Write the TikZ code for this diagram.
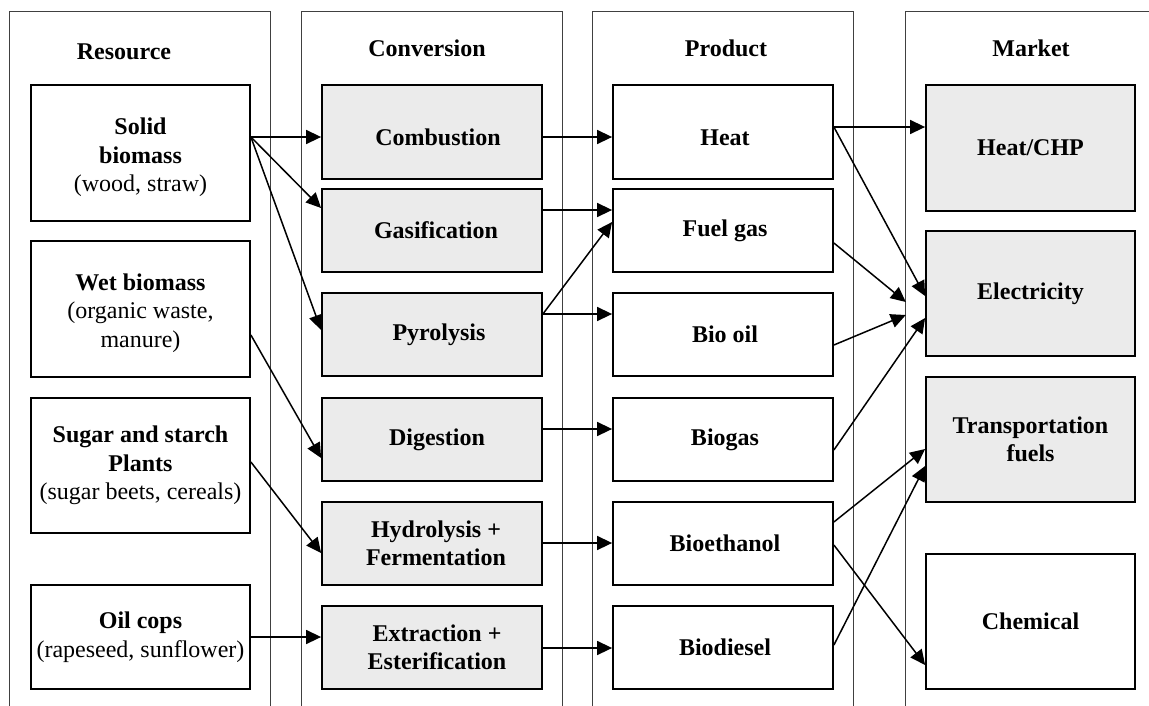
\documentclass[tikz,border=0pt]{standalone}
\usepackage{fontspec}
\setmainfont{Liberation Serif}
\usetikzlibrary{arrows.meta,calc}
\begin{document}
\begin{tikzpicture}[x=1pt,y=-1pt,
  panel/.style={draw=none,minimum width=#1,minimum height=694pt,inner sep=0pt},
  panelline/.style={draw=black!75,line width=1pt},
  head/.style={anchor=base,font=\fontsize{24}{28}\selectfont\bfseries},
  box/.style={draw=black,line width=1.8pt,align=center,inner sep=0pt,
    font=\fontsize{24}{28.5}\selectfont\bfseries},
  shade/.style={fill=black!8},
  lowtext/.style={text height=26pt,text depth=0pt},
  arr/.style={line width=1.5pt,-{Triangle[length=15pt,width=14pt]}}]
\useasboundingbox (0,0) rectangle (1149,705);
% panels
\node[panel=260pt] (pR) at (140,359) {};
\node[panel=260pt] (pC) at (432,359) {};
\node[panel=260pt] (pP) at (723,359) {};
\node[panel=260pt] (pM) at (1036,359) {};
\foreach \p in {pR,pC,pP}
  \draw[panelline] (\p.south west) -- (\p.north west) -- (\p.north east) -- (\p.south east);
\draw[panelline] (pM.south west) -- (pM.north west) -- (pM.north east);
% headers
\node[head] (hR) at (124,59) {Resource};
\node[head] (hC) at (427,56) {Conversion};
\node[head] (hP) at (726,56) {Product};
\node[head] (hM) at (1031,56) {Market};
% resource
\node[box,minimum width=219pt,minimum height=136pt] (sb) at (140.5,153) {\rule{0pt}{26pt}Solid\\biomass\\\mdseries(wood, straw)};
\node[box,minimum width=219pt,minimum height=136pt] (wb) at (140.5,309) {\rule{0pt}{25pt}Wet biomass\\\mdseries(organic waste,\\\mdseries manure)};
\node[box,minimum width=219pt,minimum height=135pt] (ss) at (140.5,465.5) {Sugar and starch\\Plants\\\mdseries(sugar beets, cereals)};
\node[box,minimum width=219pt,minimum height=104pt] (oc) at (140.5,637) {Oil cops\\\mdseries(rapeseed, sunflower)};
% conversion
\node[box,shade,lowtext,minimum width=220pt,minimum height=94pt] (cb) at (432,132) {\hspace*{12pt}Combustion};
\node[box,shade,minimum width=220pt,minimum height=83pt] (gs) at (432,230.5) {\hspace*{8pt}Gasification};
\node[box,shade,minimum width=220pt,minimum height=83pt] (py) at (432,334.5) {\hspace*{14pt}Pyrolysis};
\node[box,shade,minimum width=220pt,minimum height=83pt] (dg) at (432,439.5) {\hspace*{10pt}Digestion};
\node[box,shade,minimum width=220pt,minimum height=83pt] (hf) at (432,543.5) {\hspace*{8pt}Hydrolysis +\\\hspace*{8pt}Fermentation};
\node[box,shade,minimum width=220pt,minimum height=83pt] (ee) at (432,647.5) {\hspace*{10pt}Extraction +\\\hspace*{10pt}Esterification};
% product
\node[box,lowtext,minimum width=220pt,minimum height=94pt] (ht) at (723,132) {\hspace*{4pt}Heat};
\node[box,minimum width=220pt,minimum height=83pt] (fg) at (723,230.5) {\hspace*{4pt}Fuel gas};
\node[box,minimum width=220pt,minimum height=83pt] (bo) at (723,334.5) {\hspace*{4pt}Bio oil};
\node[box,minimum width=220pt,minimum height=83pt] (bg) at (723,439.5) {\hspace*{4pt}Biogas};
\node[box,minimum width=220pt,minimum height=83pt] (be) at (723,543.5) {\hspace*{4pt}Bioethanol};
\node[box,minimum width=220pt,minimum height=83pt] (bd) at (723,647.5) {\hspace*{4pt}Biodiesel};
% market
\node[box,shade,minimum width=209pt,minimum height=126pt] (hc) at (1030.5,148) {Heat/CHP};
\node[box,shade,minimum width=209pt,minimum height=125pt] (el) at (1030.5,293.5) {Electricity};
\node[box,shade,minimum width=209pt,minimum height=125pt] (tf) at (1030.5,439.5) {Transportation\\fuels};
\node[box,minimum width=209pt,minimum height=135pt] (ch) at (1030.5,621.5) {Chemical};
% arrows resource -> conversion
\draw[arr] ($(sb.east)+(0,-16)$) -- ($(cb.west)+(0,5)$);
\draw[arr] ($(sb.east)+(0,-16)$) -- ($(gs.west)+(0,-22.5)$);
\draw[arr] ($(sb.east)+(0,-16)$) -- ($(py.west)+(0,-4.5)$);
\draw[arr] ($(wb.east)+(0,26)$) -- ($(dg.west)+(0,18.5)$);
\draw[arr] ($(ss.east)+(0,-3.5)$) -- ($(hf.west)+(0,9.5)$);
\draw[arr] ($(oc.east)+(0,0)$) -- ($(ee.west)+(0,-10.5)$);
% conversion -> product
\draw[arr] ($(cb.east)+(0,5)$) -- ($(ht.west)+(0,5)$);
\draw[arr] ($(gs.east)+(0,-20.5)$) -- ($(fg.west)+(0,-20.5)$);
\draw[arr] ($(py.east)+(0,-20.5)$) -- ($(fg.west)+(0,-8.5)$);
\draw[arr] ($(py.east)+(0,-20.5)$) -- ($(bo.west)+(0,-20.5)$);
\draw[arr] ($(dg.east)+(0,-10.5)$) -- ($(bg.west)+(0,-10.5)$);
\draw[arr] ($(hf.east)+(0,-0.5)$) -- ($(be.west)+(0,-0.5)$);
\draw[arr] ($(ee.east)+(0,0.5)$) -- ($(bd.west)+(0,0.5)$);
% product -> market
\draw[arr] ($(ht.east)+(0,-5)$) -- ($(hc.west)+(0,-21)$);
\draw[arr] ($(ht.east)+(0,-5)$) -- ($(el.west)+(0,2.5)$);
\draw[arr] ($(fg.east)+(0,12.5)$) -- ($(pM.west)+(0,-57)$);
\draw[arr] ($(bo.east)+(0,10.5)$) -- ($(pM.west)+(0,-44)$);
\draw[arr] ($(bg.east)+(0,10.5)$) -- ($(el.west)+(0,24.5)$);
\draw[arr] ($(be.east)+(0,-21.5)$) -- ($(tf.west)+(0,9.5)$);
\draw[arr] ($(be.east)+(0,1.5)$) -- ($(ch.west)+(0,43.5)$);
\draw[arr] ($(bd.east)+(0,-2.5)$) -- ($(tf.west)+(0,26.5)$);
\end{tikzpicture}
\end{document}
